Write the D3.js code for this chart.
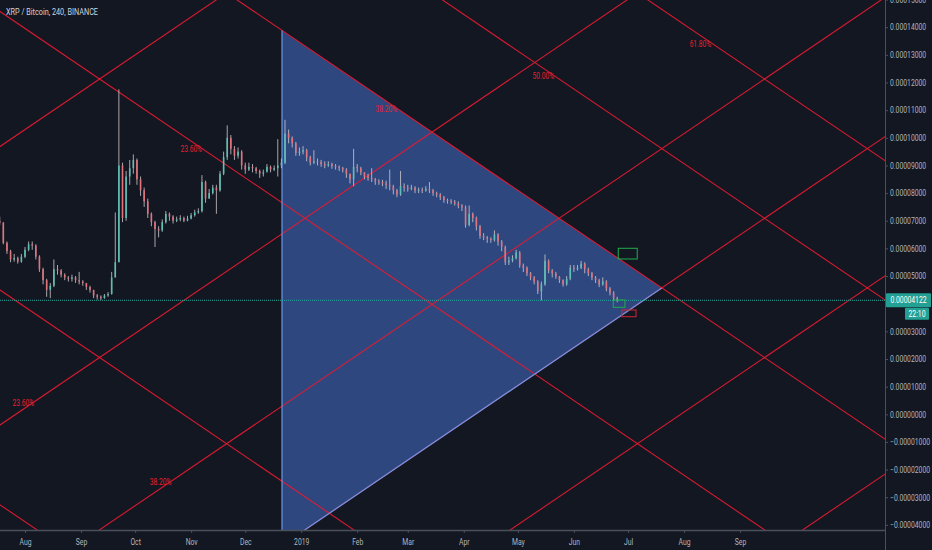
<!DOCTYPE html>
<html><head><meta charset="utf-8">
<script src="https://cdn.jsdelivr.net/npm/d3@7"></script>
<style>
html,body{margin:0;padding:0;background:#131722;overflow:hidden;}
svg{display:block;}
text{font-family:Roboto,"Noto Sans",sans-serif;}
</style></head><body>
<svg id="chart" width="932" height="550"></svg>
<script>
// ---------- data ----------
const title = "XRP / Bitcoin, 240, BINANCE";
const candleStart = "2018-07-18";
const candleStepDays = 2;
const firstOpen = 7000; // satoshi
const closes = [6930,6200,5900,5600,5650,5520,5700,5950,6150,6100,
5700,5250,4850,4500,4650,5250,5200,5050,4950,4900,
4950,4850,4800,4750,4600,4500,4300,4250,4200,4300,
4350,4950,5500,9000,7100,8600,8900,9200,8500,8100,
7700,7250,6950,6700,6650,6950,7250,7150,7000,7050,
7100,7000,7080,7200,7300,7350,8400,7800,8000,8200,
8100,8700,9300,10000,9600,9350,9500,9000,8850,8950,
8900,8800,8700,8750,8950,8850,8900,9000,9100,10150,
10000,9800,9450,9500,9550,9300,9100,9150,9130,9050,
9000,9050,8980,8950,8900,8850,8700,8500,8950,8900,
8750,8600,8550,8500,8420,8400,8350,8300,8250,8100,
7950,8250,8200,8150,8200,8100,8120,8100,8150,8100,
8000,7950,7850,7750,7720,7680,7620,7550,7480,6850,
7250,7100,6800,6450,6400,6350,6300,6500,6250,6050,
5500,5550,5650,5850,5400,5300,5100,4950,4800,4450,
4700,5550,5200,5100,4980,4850,4700,4900,5300,5250,
5300,5450,5250,5100,4950,4850,4700,4800,4550,4400,
4200,4122];
const highs = [7150,6950,6250,5950,5800,5700,5800,6050,6250,6250,
6150,5750,5300,4900,4750,5600,5400,5250,5100,5000,
5050,5000,5150,4850,4750,4650,4500,4350,4300,4350,
4420,5150,7300,11750,9100,8800,9200,9400,9250,8600,
8200,7800,7300,7000,6800,7050,7350,7300,7200,7150,
7200,7150,7180,7280,7400,7450,8650,8450,8150,8300,
8300,8800,9500,10450,10100,9700,9650,9550,9100,9100,
9050,8950,8850,8850,9050,9000,9000,9950,9250,10650,
10300,10050,9850,9650,9700,9600,9350,9550,9250,9200,
9150,9150,9100,9050,9000,8950,8900,8700,9600,9050,
8950,8750,8700,8900,8550,8500,8480,8450,8850,8300,
8150,8800,8350,8300,8300,8250,8200,8200,8250,8400,
8150,8050,8000,7900,7800,7780,7750,7700,7600,7550,
7550,7300,7150,6850,6550,6450,6400,6650,6550,6300,
6100,5700,5750,5950,5900,5450,5350,5150,5000,4850,
4800,5780,5600,5250,5150,5000,4880,5000,5400,5400,
5400,5550,5500,5300,5150,5000,4900,4950,4850,4600,
4450,4250];
const lows = [6850,6150,5800,5500,5520,5450,5480,5650,5900,5950,
5600,5150,4700,4250,4200,4600,5050,4950,4850,4800,
4800,4750,4700,4650,4500,4400,4200,4150,4130,4180,
4250,4330,4950,5500,6950,7000,8300,8700,8300,7900,
7500,7100,6800,6050,6400,6600,6900,7000,6900,6950,
6980,6950,6980,7050,7150,7250,7300,7650,7800,7950,
7250,8050,8650,9200,9400,9200,9250,8850,8700,8800,
8750,8700,8550,8600,8800,8750,8800,8600,8900,9050,
9800,9650,9350,9350,9400,9150,9000,9050,9000,8950,
8900,8950,8880,8850,8800,8750,8550,8350,8250,8750,
8650,8500,8450,8400,8300,8300,8250,8150,8100,7950,
7850,7900,8050,8050,8100,8000,8000,8000,8050,8000,
7900,7850,7750,7650,7620,7600,7550,7450,7350,6750,
6800,6950,6650,6350,6300,6200,6200,6250,6100,5900,
5400,5400,5500,5600,5300,5150,5000,4850,4700,4350,
4120,4650,5100,4950,4900,4750,4620,4650,4850,5150,
5200,5250,5100,5000,4850,4750,4600,4650,4450,4300,
4100,4050];
const lastPrice = 4122;
const countdown = "22:10";

// 0.00004000 is hidden behind the last-price label in the reference
const yTickValues = [-4,-3,-2,-1,0,1,2,3,5,6,7,8,9,10,11,12,13,14,15]; // x 1e-5
const xTickDates = ["2018-08-01","2018-09-01","2018-10-01","2018-11-01","2018-12-01","2019-01-01","2019-02-01","2019-03-01","2019-04-01","2019-05-01","2019-06-01","2019-07-01","2019-08-01","2019-09-01"];
const xTickLabels = ["Aug","Sep","Oct","Nov","Dec","2019","Feb","Mar","Apr","May","Jun","Jul","Aug","Sep"];

// Fib grid (drawing tool) : price in sats at anchor date, per-level offset, daily slope
const fanAnchorDate = "2018-08-01";
const descBase = 3882, ascBase = 10298, levelStep = 426.8, fanSlope = 44.27;
const descLevels = [-18.2, 0, 23.6, 38.2, 50, 61.8];
const ascLevels = [0, 23.6, 38.2, 50, 61.8, 78.6];
const descLabelLevels = [23.6, 38.2, 50, 61.8];
const descLabelDates = ["2018-11-07","2019-02-23","2019-05-21","2019-08-16"];
const ascLabelLevels = [23.6, 38.2];
const ascLabelDates = ["2018-08-06","2018-10-21"];

// Triangle drawing
const triangleStart = "2018-12-21T08:00:00Z";
const triangleTopLevel = 38.2;   // descending level
const triangleBottomLevel = 50;  // ascending level

// Boxes
const boxStarts = ["2019-06-25T14:00:00Z","2019-06-22T19:00:00Z","2019-06-27T12:00:00Z"];
const boxEnds   = ["2019-07-06T02:00:00Z","2019-06-29T07:00:00Z","2019-07-05T10:00:00Z"];
const boxLows   = [5617, 3870, 3530];
const boxHighs  = [6004, 4134, 3772];
const boxKinds  = ["green","green","red"];

// ---------- chart ----------
const W = 932, H = 550, plotR = 885, plotB = 530;
const svg = d3.select("#chart");
const DAY = 864e5;
const parse = s => d3.isoParse(s.length === 10 ? s + "T00:00:00Z" : s);
const sat = v => v * 1e-8;

const x = d3.scaleUtc().domain([parse("2018-08-01"), parse("2019-09-01")]).range([25, 740]);
const y = d3.scaleLinear().domain([0, 0.0001]).range([414.3, 137.8]);

svg.append("rect").attr("width", W).attr("height", H).attr("fill", "#131722");

svg.append("defs").append("clipPath").attr("id", "plotclip")
  .append("rect").attr("x", 0).attr("y", 0).attr("width", plotR).attr("height", plotB);
const plot = svg.append("g").attr("clip-path", "url(#plotclip)");

const anchor = parse(fanAnchorDate);
const days = t => (t - anchor) / DAY;
const descPrice = (L, t) => descBase + levelStep * L - fanSlope * days(t);
const ascPrice = (L, t) => ascBase - levelStep * L + fanSlope * days(t);

// triangle
const tS = parse(triangleStart);
const dApex = (descBase + levelStep * triangleTopLevel - ascBase + levelStep * triangleBottomLevel) / (2 * fanSlope);
const tApex = new Date(+anchor + dApex * DAY);
const triPts = [
  [tS, descPrice(triangleTopLevel, tS)],
  [tApex, descPrice(triangleTopLevel, tApex)],
  [tS, ascPrice(triangleBottomLevel, tS)]
];
const P = p => [x(p[0]), y(sat(p[1]))];
plot.append("path")
  .attr("d", "M" + triPts.map(P).map(p => p.join(",")).join("L") + "Z")
  .attr("fill", "rgba(68,110,200,0.56)").attr("stroke", "none");

// fib grid lines
const tL = x.invert(-20), tR = x.invert(plotR + 20);
const lineGen = d3.line().x(d => x(d[0])).y(d => y(sat(d[1])));
const redCol = "#e11a30";
plot.selectAll(".desc").data(descLevels).join("path")
  .attr("d", L => lineGen([[tL, descPrice(L, tL)], [tR, descPrice(L, tR)]]))
  .attr("stroke", redCol).attr("stroke-opacity", 0.95).attr("stroke-width", 1.1).attr("fill", "none");
plot.selectAll(".asc").data(ascLevels).join("path")
  .attr("d", L => lineGen([[tL, ascPrice(L, tL)], [tR, ascPrice(L, tR)]]))
  .attr("stroke", redCol).attr("stroke-opacity", 0.95).attr("stroke-width", 1.1).attr("fill", "none");

// triangle left + lower borders (blue)
plot.append("path")
  .attr("d", lineGen([triPts[1], triPts[2], triPts[0]]))
  .attr("fill", "none").attr("stroke", "#6a97ea").attr("stroke-width", 1.2);

// fib labels
const fmtLvl = L => L.toFixed(2) + "%";
function lvlLabel(L, dStr, fn) {
  const t = parse(dStr);
  plot.append("text")
    .attr("transform", `translate(${x(t)},${y(sat(fn(L, t))) + 1}) scale(0.78,1)`)
    .attr("text-anchor", "end").attr("dominant-baseline", "central")
    .attr("font-size", 8.5).attr("fill", "#e8202e").text(fmtLvl(L));
}
descLabelLevels.forEach((L, i) => lvlLabel(L, descLabelDates[i], descPrice));
ascLabelLevels.forEach((L, i) => lvlLabel(L, ascLabelDates[i], ascPrice));

// candles
const cStart = parse(candleStart);
const candles = closes.map((c, i) => ({
  t: new Date(+cStart + i * candleStepDays * DAY),
  o: i === 0 ? firstOpen : closes[i - 1], c, h: highs[i], l: lows[i]
}));
const cg = plot.append("g");
cg.selectAll(".wick").data(candles).join("line")
  .attr("x1", d => x(d.t)).attr("x2", d => x(d.t))
  .attr("y1", d => y(sat(d.h))).attr("y2", d => y(sat(d.l)))
  .attr("stroke", "#cfc9cc").attr("stroke-width", 0.8);
cg.selectAll(".body").data(candles).join("rect")
  .attr("x", d => x(d.t) - 0.8)
  .attr("width", 1.6)
  .attr("y", d => y(sat(Math.max(d.o, d.c))))
  .attr("height", d => Math.max(1, Math.abs(y(sat(d.o)) - y(sat(d.c)))))
  .attr("fill", d => d.c >= d.o ? "#5cc0b5" : "#e2727c");

// last price line
const yLast = y(sat(lastPrice));
plot.append("line").attr("x1", 0).attr("x2", plotR).attr("y1", yLast).attr("y2", yLast)
  .attr("stroke", "#26a69a").attr("stroke-width", 1).attr("stroke-dasharray", "1,1");

// boxes
plot.selectAll(".box").data(boxStarts.map((s, i) => i)).join("rect")
  .attr("x", i => x(parse(boxStarts[i])))
  .attr("width", i => x(parse(boxEnds[i])) - x(parse(boxStarts[i])))
  .attr("y", i => y(sat(boxHighs[i])))
  .attr("height", i => y(sat(boxLows[i])) - y(sat(boxHighs[i])))
  .attr("fill", "none")
  .attr("stroke", i => boxKinds[i] === "green" ? "#1fae4a" : "#d32431")
  .attr("stroke-width", 1);

// ---------- axes ----------
const axisCol = "#4a4f5c", textCol = "#b2b5be";
const yAxis = svg.append("g").attr("transform", `translate(${plotR},0)`)
  .call(d3.axisRight(y).tickValues(yTickValues.map(v => v * 1e-5)).tickSize(3)
    .tickFormat(v => (v < -1e-12 ? "\u2212" : "") + Math.abs(v).toFixed(8)));
yAxis.select(".domain").remove();
yAxis.selectAll(".tick line").attr("stroke", axisCol);
yAxis.selectAll(".tick text").attr("x", null).attr("dy", null)
  .attr("transform", "translate(5,0) scale(0.8,1)")
  .attr("dominant-baseline", "central")
  .attr("fill", textCol).attr("font-size", 8.5).attr("font-family", "Roboto, sans-serif");

const xAxis = svg.append("g").attr("transform", `translate(0,${plotB})`)
  .call(d3.axisBottom(x).tickValues(xTickDates.map(parse)).tickSize(3)
    .tickFormat((d, i) => xTickLabels[i]));
xAxis.select(".domain").remove();
xAxis.selectAll(".tick line").attr("stroke", axisCol);
xAxis.selectAll(".tick text").attr("y", null).attr("dy", null)
  .attr("transform", "translate(0,12) scale(0.8,1)")
  .attr("dominant-baseline", "central")
  .attr("fill", textCol).attr("font-size", 8.5).attr("font-family", "Roboto, sans-serif");

svg.append("line").attr("x1", 0).attr("x2", plotR).attr("y1", plotB + 0.5).attr("y2", plotB + 0.5)
  .attr("stroke", axisCol).attr("stroke-width", 1.5);
svg.append("line").attr("x1", plotR + 0.5).attr("x2", plotR + 0.5).attr("y1", 0).attr("y2", H)
  .attr("stroke", axisCol).attr("stroke-width", 1);

// price label
const pg = svg.append("g");
pg.append("rect").attr("x", plotR + 1).attr("y", yLast - 7).attr("width", 45).attr("height", 14)
  .attr("fill", "#23a093").attr("rx", 1);
pg.append("text").attr("transform", `translate(${plotR + 23.5},${yLast}) scale(0.8,1)`)
  .attr("text-anchor", "middle").attr("dominant-baseline", "central")
  .attr("fill", "#ffffff").attr("font-size", 8.5).text(sat(lastPrice).toFixed(8));
pg.append("rect").attr("x", plotR + 20).attr("y", yLast + 7.5).attr("width", 24).attr("height", 12)
  .attr("fill", "#23a093").attr("rx", 1);
pg.append("text").attr("transform", `translate(${plotR + 32},${yLast + 13.5}) scale(0.8,1)`)
  .attr("text-anchor", "middle").attr("dominant-baseline", "central")
  .attr("fill", "#ffffff").attr("font-size", 8.5).text(countdown);

// title
svg.append("text").attr("x", 6).attr("y", 11).attr("dominant-baseline", "central")
  .attr("font-size", 9.5).attr("fill", "#d1d4dc").attr("textLength", 92)
  .attr("lengthAdjust", "spacingAndGlyphs").text(title);
</script>
</body></html>
